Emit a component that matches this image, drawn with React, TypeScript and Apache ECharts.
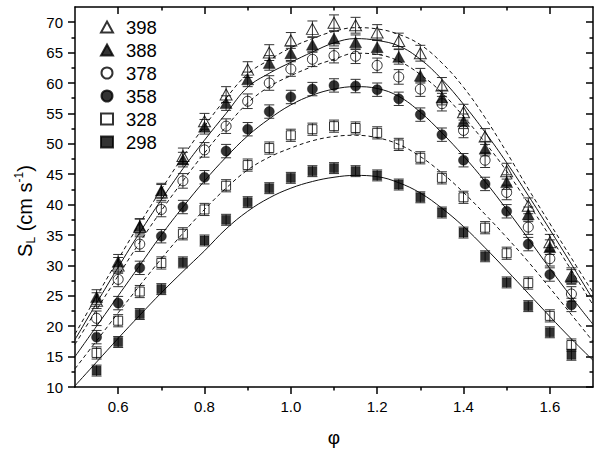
import React, { useEffect, useRef } from 'react';
import * as echarts from 'echarts';

// ---- data ----
const phi = [0.55, 0.6, 0.65, 0.7, 0.75, 0.8, 0.85, 0.9, 0.95, 1.0, 1.05, 1.1, 1.15, 1.2, 1.25, 1.3, 1.35, 1.4, 1.45, 1.5, 1.55, 1.6, 1.65];

const s398 = [24.2, 30.0, 36.3, 42.0, 48.0, 53.7, 58.1, 62.2, 65.0, 67.0, 68.9, 69.9, 69.5, 68.3, 66.9, 64.9, 59.6, 55.2, 51.2, 45.5, 39.8, 33.8, 28.3];
const s388 = [24.8, 30.6, 36.5, 42.3, 47.4, 52.8, 56.7, 60.6, 63.3, 64.9, 66.3, 67.3, 66.7, 65.9, 64.3, 61.2, 57.6, 53.7, 49.2, 43.7, 38.4, 33.0, 28.1];
const s378 = [21.3, 27.7, 33.5, 39.2, 43.9, 49.0, 52.9, 57.0, 60.0, 62.3, 63.9, 64.5, 64.4, 62.9, 61.0, 59.0, 56.6, 52.2, 47.3, 42.0, 36.3, 31.1, 25.3];
const s358 = [18.2, 23.8, 29.6, 34.8, 39.6, 44.5, 48.8, 52.4, 55.3, 57.7, 59.0, 59.6, 59.5, 58.9, 57.4, 54.8, 51.5, 47.3, 43.4, 38.9, 33.5, 28.5, 23.5];
const s328 = [15.6, 20.9, 25.7, 30.4, 35.2, 39.2, 43.1, 46.5, 49.3, 51.4, 52.4, 52.9, 52.6, 51.8, 49.9, 47.7, 44.4, 41.2, 36.2, 32.0, 27.1, 21.7, 16.9];
const s298 = [12.7, 17.4, 22.0, 26.1, 30.5, 34.1, 37.5, 40.4, 42.7, 44.4, 45.5, 46.0, 45.5, 44.8, 43.3, 41.2, 38.7, 35.4, 31.5, 27.2, 23.3, 19.0, 15.3];

// error bar half-widths (cm/s)
const err398 = 1.3;
const err388 = 1.2;
const err378 = 1.2;
const err358 = 1.1;
const err328 = 1.0;
const err298 = 0.9;

// fitted curves, read at these phi values
const fitPhi = [0.5, 0.55, 0.6, 0.65, 0.7, 0.75, 0.8, 0.85, 0.9, 0.95, 1.0, 1.05, 1.1, 1.15, 1.2, 1.25, 1.3, 1.35, 1.4, 1.45, 1.5, 1.55, 1.6, 1.65, 1.7];
const fit398 = [18.7, 24.9, 31.0, 36.9, 42.5, 47.9, 52.9, 57.5, 61.5, 63.8, 65.8, 67.3, 68.5, 69.1, 68.9, 68.0, 66.3, 63.3, 59.3, 54.3, 48.6, 42.6, 36.9, 31.2, 25.5];
const fit388 = [17.8, 23.8, 29.7, 35.4, 40.8, 45.9, 50.6, 55.0, 59.3, 61.6, 63.4, 65.1, 66.6, 67.3, 67.0, 66.1, 63.9, 60.6, 56.5, 51.9, 46.9, 41.5, 35.9, 30.2, 24.4];
const fit378 = [17.0, 22.7, 28.3, 33.8, 39.0, 43.9, 48.5, 52.8, 56.7, 59.4, 61.2, 62.7, 63.9, 64.9, 64.7, 63.6, 61.4, 58.4, 54.5, 50.2, 45.5, 40.2, 34.8, 29.2, 23.5];
const fit358 = [15.0, 20.0, 25.0, 30.0, 35.0, 39.6, 43.9, 47.8, 51.3, 54.1, 56.4, 58.0, 59.0, 59.4, 59.1, 57.8, 55.2, 51.8, 48.0, 43.8, 39.2, 34.4, 29.5, 24.8, 20.3];
const fit328 = [13.0, 17.6, 22.2, 26.7, 31.1, 35.3, 39.2, 42.7, 45.7, 47.8, 49.3, 50.5, 51.2, 51.4, 51.0, 49.9, 47.9, 45.2, 42.0, 38.4, 34.6, 30.6, 26.3, 21.9, 17.5];
const fit298 = [10.2, 14.1, 18.0, 21.8, 25.5, 29.0, 32.4, 36.0, 38.9, 41.1, 42.7, 43.8, 44.5, 44.8, 44.6, 43.6, 41.9, 39.4, 36.4, 32.9, 29.2, 25.4, 21.6, 17.9, 14.4];

const seriesNames = ['398', '388', '378', '358', '328', '298'];

// ticks
const xMajorTicks = [0.6, 0.8, 1.0, 1.2, 1.4, 1.6];
const xMinorTicks = [0.7, 0.9, 1.1, 1.3, 1.5];
const yMajorTicks = [10, 15, 20, 25, 30, 35, 40, 45, 50, 55, 60, 65, 70];
const yMinorTicks = [12.5, 17.5, 22.5, 27.5, 32.5, 37.5, 42.5, 47.5, 52.5, 57.5, 62.5, 67.5];

const FONT = 'Liberation Sans, Arial, sans-serif';

export default function App() {
  const ref = useRef<HTMLDivElement>(null);

  useEffect(() => {
    const chart = echarts.init(ref.current!, null, { renderer: 'svg' });

    const defs = [
      { name: seriesNames[0], y: s398, err: err398, fit: fit398, symbol: 'triangle', size: [12, 11], filled: false, dashed: true },
      { name: seriesNames[1], y: s388, err: err388, fit: fit388, symbol: 'triangle', size: [12, 11], filled: true, dashed: false },
      { name: seriesNames[2], y: s378, err: err378, fit: fit378, symbol: 'circle', size: 10, filled: false, dashed: true },
      { name: seriesNames[3], y: s358, err: err358, fit: fit358, symbol: 'circle', size: 10, filled: true, dashed: false },
      { name: seriesNames[4], y: s328, err: err328, fit: fit328, symbol: 'rect', size: 9, filled: false, dashed: true },
      { name: seriesNames[5], y: s298, err: err298, fit: fit298, symbol: 'rect', size: 9, filled: true, dashed: false },
    ];

    const series: any[] = [];
    defs.forEach((d) => {
      series.push({
        name: d.name + ' fit',
        type: 'line',
        data: fitPhi.map((x, i) => [x, d.fit[i]]),
        smooth: 0.4,
        showSymbol: false,
        symbol: 'none',
        silent: true,
        z: 2,
        lineStyle: { color: '#111', width: 1, type: d.dashed ? [4, 3] : 'solid' },
      });
      series.push({
        name: d.name + ' err',
        type: 'custom',
        z: 1,
        silent: true,
        data: phi.map((x, i) => [x, d.y[i], d.err]),
        encode: { x: 0, y: 1 },
        renderItem: (params: any, api: any) => {
          const x = api.value(0);
          const y = api.value(1);
          const e = api.value(2);
          const top = api.coord([x, y + e]);
          const bot = api.coord([x, y - e]);
          const hw = 5;
          const style = { stroke: '#333', lineWidth: 1 };
          return {
            type: 'group',
            children: [
              { type: 'line', shape: { x1: top[0], y1: top[1], x2: bot[0], y2: bot[1] }, style },
              { type: 'line', shape: { x1: top[0] - hw, y1: top[1], x2: top[0] + hw, y2: top[1] }, style },
              { type: 'line', shape: { x1: bot[0] - hw, y1: bot[1], x2: bot[0] + hw, y2: bot[1] }, style },
            ],
          };
        },
      });
      series.push({
        name: d.name,
        type: 'scatter',
        z: 3,
        data: phi.map((x, i) => [x, d.y[i]]),
        symbol: d.symbol,
        symbolSize: d.size,
        itemStyle: d.filled
          ? { color: '#000', borderColor: '#000', borderWidth: 0.5 }
          : { color: 'rgba(255,255,255,0)', borderColor: '#000', borderWidth: 1 },
      });
    });

    const axisLineStyle = { color: '#000', width: 1.5 };
    const tickStyle = { color: '#000', width: 1.5 };

    const option: any = {
      animation: false,
      backgroundColor: '#fff',
      textStyle: { fontFamily: FONT, color: '#000' },
      grid: { left: 75, right: 7, top: 7, bottom: 65, containLabel: false },
      legend: {
        data: seriesNames,
        orient: 'vertical',
        left: 95,
        top: 12,
        itemWidth: 12,
        itemHeight: 11,
        itemGap: 3,
        selectedMode: false,
        formatter: (name: string) => '{g|}{t|' + name + '}',
        textStyle: {
          fontSize: 18.5, fontFamily: FONT, color: '#000', lineHeight: 20,
          rich: {
            g: { width: 8 },
            t: { fontSize: 18.5, fontFamily: FONT, color: '#000', lineHeight: 20 },
          },
        },
      },
      xAxis: [
        {
          type: 'value', min: 0.5, max: 1.7, position: 'bottom',
          axisLine: { onZero: false, lineStyle: axisLineStyle },
          axisTick: { customValues: xMajorTicks, length: 7, lineStyle: tickStyle },
          axisLabel: { customValues: xMajorTicks, formatter: (v: number) => v.toFixed(1), fontSize: 15, color: '#000', margin: 12, fontFamily: FONT },
          splitLine: { show: false },
          name: '\u03c6', nameLocation: 'middle', nameGap: 41,
          nameTextStyle: { fontSize: 19, color: '#000', fontFamily: FONT },
        },
        {
          type: 'value', min: 0.5, max: 1.7, position: 'bottom',
          axisLine: { show: false, onZero: false },
          axisTick: { customValues: xMinorTicks, length: 3.5, lineStyle: tickStyle },
          axisLabel: { show: false },
          splitLine: { show: false },
        },
        {
          type: 'value', min: 0.5, max: 1.7, position: 'top',
          axisLine: { onZero: false, lineStyle: axisLineStyle },
          axisTick: { customValues: xMajorTicks, length: 7, inside: true, lineStyle: tickStyle },
          axisLabel: { show: false },
          splitLine: { show: false },
        },
        {
          type: 'value', min: 0.5, max: 1.7, position: 'top',
          axisLine: { show: false, onZero: false },
          axisTick: { customValues: xMinorTicks, length: 3.5, inside: true, lineStyle: tickStyle },
          axisLabel: { show: false },
          splitLine: { show: false },
        },
      ],
      yAxis: [
        {
          type: 'value', min: 10, max: 72.5, position: 'left',
          axisLine: { show: true, onZero: false, lineStyle: axisLineStyle },
          axisTick: { show: true, customValues: yMajorTicks, length: 7, lineStyle: tickStyle },
          axisLabel: { customValues: yMajorTicks, fontSize: 15, color: '#000', margin: 12, fontFamily: FONT },
          splitLine: { show: false },
        },
        {
          type: 'value', min: 10, max: 72.5, position: 'left',
          axisLine: { show: false, onZero: false },
          axisTick: { show: true, customValues: yMinorTicks, length: 3.5, lineStyle: tickStyle },
          axisLabel: { show: false },
          splitLine: { show: false },
        },
        {
          type: 'value', min: 10, max: 72.5, position: 'right',
          axisLine: { show: true, onZero: false, lineStyle: axisLineStyle },
          axisTick: { show: true, customValues: yMajorTicks, length: 7, inside: true, lineStyle: tickStyle },
          axisLabel: { show: false },
          splitLine: { show: false },
        },
        {
          type: 'value', min: 10, max: 72.5, position: 'right',
          axisLine: { show: false, onZero: false },
          axisTick: { show: true, customValues: yMinorTicks, length: 3.5, inside: true, lineStyle: tickStyle },
          axisLabel: { show: false },
          splitLine: { show: false },
        },
      ],
      graphic: [
        {
          type: 'text',
          x: 25,
          y: 211,
          rotation: Math.PI / 2,
          style: {
            text: '{s|S}{sub|L}{s| (cm s}{sup|-1}{s|)}',
            align: 'center',
            verticalAlign: 'middle',
            fill: '#000',
            rich: {
              s: { fontSize: 20, fontFamily: FONT, fill: '#000' },
              sub: { fontSize: 12, fontFamily: FONT, fill: '#000', padding: [12, 0, 0, 0] },
              sup: { fontSize: 12, fontFamily: FONT, fill: '#000', padding: [0, 0, 12, 0] },
            },
          },
        },
      ],
      series,
    };

    chart.setOption(option);
    return () => chart.dispose();
  }, []);

  return <div ref={ref} style={{ position: 'absolute', left: 0, top: 0, width: 600, height: 452 }} />;
}
